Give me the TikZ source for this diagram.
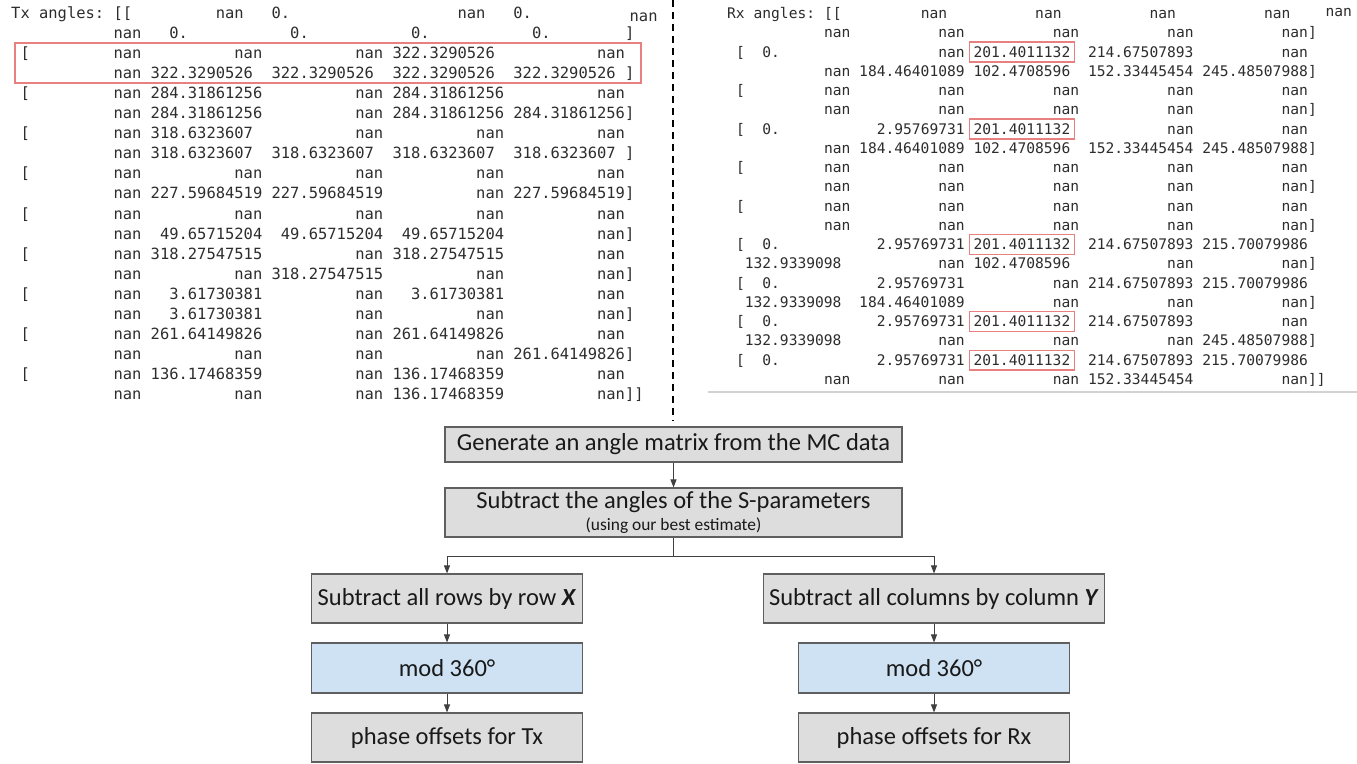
\documentclass[tikz,border=0pt]{standalone}
\usepackage{fontspec}
\usepackage{tikz}
\usetikzlibrary{arrows.meta,calc,positioning}
\setmainfont{Carlito}
\newfontfamily\codefont{DejaVu Sans Mono}
\definecolor{boxgray}{RGB}{221,221,221}
\definecolor{boxblue}{RGB}{207,226,243}
\definecolor{boxline}{RGB}{95,95,95}
\definecolor{markred}{RGB}{232,128,128}
\definecolor{codegray}{RGB}{45,45,45}
\tikzstyle{stepbox}=[draw=boxline, line width=1.1pt, fill=boxgray, inner sep=0pt, text=black!90, font=\fontsize{24.5}{28}\selectfont]
\tikzstyle{modbox}=[stepbox, fill=boxblue]
\tikzstyle{wire}=[draw=black!75, line width=1pt]
\tikzstyle{link}=[wire, -{Triangle[length=8pt,width=6pt]}]
\tikzstyle{redbox}=[draw=markred, line width=1.2pt]
\tikzstyle{txcode}=[inner sep=0pt, anchor=base west, text=codegray, font=\codefont\fontsize{15.45}{18}\selectfont]
\tikzstyle{rxcode}=[txcode, font=\codefont\fontsize{14.6}{17}\selectfont]
% one printed line of an array: style, name, x origin, char width, baseline, col/text list
\newcommand{\codeline}[6]{
	\foreach \cc/\word in {#6}
		\node[#1] (#2-\cc) at ({#3+\cc*#4},{#5}) {\word};
}
\newcommand{\txline}[2]{\codeline{txcode}{tx#1}{11}{9.3}{18.5+20.05*#1}{#2}}
\newcommand{\rxline}[2]{\codeline{rxcode}{rx#1}{727}{8.8}{18.5+19.26*#1}{#2}}

\begin{document}
\begin{tikzpicture}[x=1pt, y=-1pt]
	\fill[white] (0,0) rectangle (1357,763);
	\useasboundingbox (0,0) rectangle (1357,763);
	% Tx angles
	\txline{0}{0/Tx,3/angles:,11/[[,22/nan,28/0.,48/nan,54/0.}
	\node[txcode] (tx0-wrap) at ({11+66.5*9.3},21.5) {nan};
	\txline{1}{11/nan,17/0.,30/0.,43/0.,56/0.,66/]}
	\txline{2}{1/[,11/nan,24/nan,37/nan,41/322.3290526,63/nan}
	\txline{3}{11/nan,15/322.3290526,28/322.3290526,41/322.3290526,54/322.3290526,66/]}
	\txline{4}{1/[,11/nan,15/284.31861256,37/nan,41/284.31861256,63/nan}
	\txline{5}{11/nan,15/284.31861256,37/nan,41/284.31861256,54/284.31861256,66/]}
	\txline{6}{1/[,11/nan,15/318.6323607,37/nan,50/nan,63/nan}
	\txline{7}{11/nan,15/318.6323607,28/318.6323607,41/318.6323607,54/318.6323607,66/]}
	\txline{8}{1/[,11/nan,24/nan,37/nan,50/nan,63/nan}
	\txline{9}{11/nan,15/227.59684519,28/227.59684519,50/nan,54/227.59684519,66/]}
	\txline{10}{1/[,11/nan,24/nan,37/nan,50/nan,63/nan}
	\txline{11}{11/nan,16/49.65715204,29/49.65715204,42/49.65715204,63/nan,66/]}
	\txline{12}{1/[,11/nan,15/318.27547515,37/nan,41/318.27547515,63/nan}
	\txline{13}{11/nan,24/nan,28/318.27547515,50/nan,63/nan,66/]}
	\txline{14}{1/[,11/nan,17/3.61730381,37/nan,43/3.61730381,63/nan}
	\txline{15}{11/nan,17/3.61730381,37/nan,50/nan,63/nan,66/]}
	\txline{16}{1/[,11/nan,15/261.64149826,37/nan,41/261.64149826,63/nan}
	\txline{17}{11/nan,24/nan,37/nan,50/nan,54/261.64149826,66/]}
	\txline{18}{1/[,11/nan,15/136.17468359,37/nan,41/136.17468359,63/nan}
	\txline{19}{11/nan,24/nan,37/nan,41/136.17468359,63/nan,66/]]}
	\draw[redbox] (15,43) rectangle (641,83);
	% Rx angles
	\rxline{0}{0/Rx,3/angles:,11/[[,22/nan,35/nan,48/nan,61/nan}
	\node[rxcode] (rx0-wrap) at ({727+68*8.8},16) {nan};
	\rxline{1}{11/nan,24/nan,37/nan,50/nan,63/nan,66/]}
	\rxline{2}{1/[,4/0.,24/nan,28/201.4011132,41/214.67507893,63/nan}
	\rxline{3}{11/nan,15/184.46401089,28/102.4708596,41/152.33445454,54/245.48507988,66/]}
	\rxline{4}{1/[,11/nan,24/nan,37/nan,50/nan,63/nan}
	\rxline{5}{11/nan,24/nan,37/nan,50/nan,63/nan,66/]}
	\rxline{6}{1/[,4/0.,17/2.95769731,28/201.4011132,50/nan,63/nan}
	\rxline{7}{11/nan,15/184.46401089,28/102.4708596,41/152.33445454,54/245.48507988,66/]}
	\rxline{8}{1/[,11/nan,24/nan,37/nan,50/nan,63/nan}
	\rxline{9}{11/nan,24/nan,37/nan,50/nan,63/nan,66/]}
	\rxline{10}{1/[,11/nan,24/nan,37/nan,50/nan,63/nan}
	\rxline{11}{11/nan,24/nan,37/nan,50/nan,63/nan,66/]}
	\rxline{12}{1/[,4/0.,17/2.95769731,28/201.4011132,41/214.67507893,54/215.70079986}
	\rxline{13}{2/132.9339098,24/nan,28/102.4708596,50/nan,63/nan,66/]}
	\rxline{14}{1/[,4/0.,17/2.95769731,37/nan,41/214.67507893,54/215.70079986}
	\rxline{15}{2/132.9339098,15/184.46401089,37/nan,50/nan,63/nan,66/]}
	\rxline{16}{1/[,4/0.,17/2.95769731,28/201.4011132,41/214.67507893,63/nan}
	\rxline{17}{2/132.9339098,24/nan,37/nan,50/nan,54/245.48507988,66/]}
	\rxline{18}{1/[,4/0.,17/2.95769731,28/201.4011132,41/214.67507893,54/215.70079986}
	\rxline{19}{11/nan,24/nan,37/nan,41/152.33445454,63/nan,66/]]}
	\foreach \i in {2,6,12,16,18}
		\draw[redbox] ($(rx\i-28.south west)+(-4,4.5)$) rectangle ($(rx\i-28.north east)+(4,-4)$);
	\draw[gray!35, line width=2.5pt] (708,392) -- (1357,392);
	% divider
	\coordinate (divtop) at (673,0);
	\coordinate (divbot) at (673,421);
	\draw[line width=1.8pt, dash pattern=on 7pt off 5pt] (divtop) -- (divbot);
	% flow
	\node[stepbox, minimum width=457pt, minimum height=35pt] (gen) at (673.5,444.5) {Generate an angle matrix from the MC data};
	\node[stepbox, minimum width=457pt, minimum height=49pt, align=center, font=\fontsize{24.5}{22}\selectfont] (sub) at (673.5,512.5) {Subtract the angles of the S-parameters\\{\fontsize{17.4}{22}\selectfont (using our best estimate)}};
	\node[stepbox, minimum width=271pt, minimum height=49pt] (rows) at (447,598.5) {Subtract all rows by row \textbf{\textit{X}}};
	\node[modbox, minimum width=271pt, minimum height=50pt] (modtx) at (447,668) {mod 360°};
	\node[stepbox, minimum width=271pt, minimum height=49pt] (phtx) at (447,737.5) {phase offsets for Tx};
	\node[stepbox, minimum width=341pt, minimum height=49pt] (cols) at (934,598.5) {Subtract all columns by column \textbf{\textit{Y}}};
	\node[modbox, minimum width=271pt, minimum height=50pt] (modrx) at (934,668) {mod 360°};
	\node[stepbox, minimum width=271pt, minimum height=49pt] (phrx) at (934,737.5) {phase offsets for Rx};
	\coordinate (split) at (673.5,556);
	\draw[link] (gen) -- (sub);
	\draw[wire] (sub) -- (split);
	\draw[link] (split) -| (rows);
	\draw[link] (split) -| (cols);
	\draw[link] (rows) -- (modtx);
	\draw[link] (modtx) -- (phtx);
	\draw[link] (cols) -- (modrx);
	\draw[link] (modrx) -- (phrx);
\end{tikzpicture}
\end{document}
